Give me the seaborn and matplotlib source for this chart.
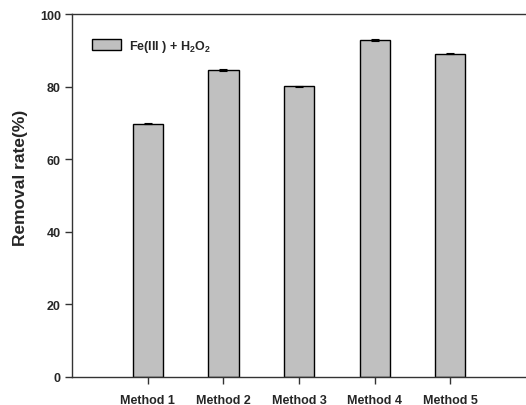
import matplotlib
matplotlib.use("Agg")
import matplotlib.pyplot as plt
import seaborn as sns
import pandas as pd

methods = ["Method 1", "Method 2", "Method 3", "Method 4", "Method 5"]
removal = [69.8, 84.6, 80.1, 92.9, 89.1]
errors = [0.2, 0.2, 0.2, 0.2, 0.2]
series_label = r"Fe(III ) + H$_\mathbf{2}$O$_\mathbf{2}$"
y_ticks = [0, 20, 40, 60, 80, 100]

sns.set_theme(style="white")
plt.rcParams["font.family"] = ["Liberation Sans", "DejaVu Sans"]
plt.rcParams["font.weight"] = "bold"
plt.rcParams["mathtext.fontset"] = "custom"
plt.rcParams["mathtext.bf"] = "Liberation Sans:bold"
plt.rcParams["mathtext.rm"] = "Liberation Sans:bold"

df = pd.DataFrame({"Method": methods, "Removal": removal})

fig = plt.figure(figsize=(5.26, 4.06), dpi=100)
ax = fig.add_axes([0.137, 0.069, 0.863, 0.894])

sns.barplot(data=df, x="Method", y="Removal", color="#c0c0c0", width=0.4,
            edgecolor="black", linewidth=1.0, saturation=1, errorbar=None,
            label=series_label, ax=ax)
ax.errorbar(range(len(methods)), removal, yerr=errors, fmt="none",
            ecolor="black", elinewidth=0.8, capsize=3.0, capthick=0.8)

ax.set_xlim(-1, 5)
ax.set_ylim(0, 100)
ax.set_yticks(y_ticks)
ax.set_xlabel("")
ax.set_ylabel("Removal rate(%)", fontsize=12.5, fontweight="bold")
ax.yaxis.set_label_coords(-0.098, 0.55)

for side in ["left", "bottom", "top"]:
    ax.spines[side].set_visible(True)
    ax.spines[side].set_color("#333333")
    ax.spines[side].set_linewidth(1.0)
ax.spines["right"].set_visible(False)

ax.tick_params(axis="both", which="major", direction="out", length=5,
               width=1.0, color="#333333", labelsize=9, pad=3,
               bottom=True, left=True)
for lbl in ax.get_xticklabels() + ax.get_yticklabels():
    lbl.set_fontweight("bold")
ax.tick_params(axis="x", pad=7)

leg = ax.legend(loc="upper left", bbox_to_anchor=(0.02, 0.965), frameon=False,
                handlelength=2.3, handleheight=1.0, handletextpad=0.6,
                prop={"weight": "bold", "size": 9})

fig.savefig("out.png", dpi=100)
